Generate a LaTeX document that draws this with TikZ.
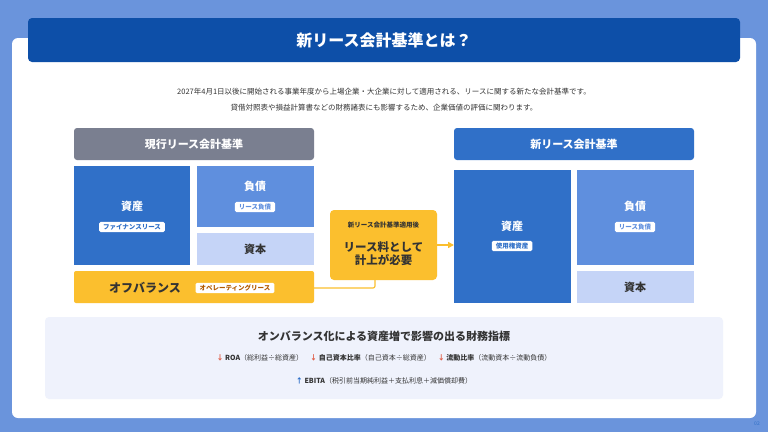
\documentclass[tikz,border=0pt]{standalone}
\usepackage{fontspec}
\usetikzlibrary{arrows.meta}
\setmainfont{Noto Sans CJK JP}
\newcommand\jpb{\bfseries}
\definecolor{bgblue}{HTML}{6A94DC}
\definecolor{dblue}{HTML}{0D4FA8}
\definecolor{mblue}{HTML}{3070C8}
\definecolor{lblue}{HTML}{5F8FDE}
\definecolor{pblue}{HTML}{C5D4F7}
\definecolor{hgray}{HTML}{7A7F90}
\definecolor{ylw}{HTML}{FBBF2E}
\definecolor{panel}{HTML}{EFF2FC}
\definecolor{txt}{HTML}{333333}
\definecolor{redc}{HTML}{E0604A}
\begin{document}
\begin{tikzpicture}[x=1pt,y=-1pt,
  badge/.style={fill=white,rounded corners=1.5pt,inner xsep=4pt,inner ysep=2pt,font=\fontsize{6.5}{7}\jpb},
  big/.style={font=\fontsize{11}{12}\jpb}]
\fill[bgblue] (0,0) rectangle (768,432);
\useasboundingbox (0,0) rectangle (768,432);
\fill[white,rounded corners=6pt] (12,38) rectangle (756,418);
\fill[dblue,rounded corners=4pt] (28,18) rectangle (740,62);
\node[white,font=\fontsize{16}{18}\jpb] (title) at (384,40) {新リース会計基準とは？};
\node[txt,font=\fontsize{7.5}{9}\selectfont] (s1) at (384,92) {2027年4月1日以後に開始される事業年度から上場企業・大企業に対して適用される、リースに関する新たな会計基準です。};
\node[txt,font=\fontsize{7.5}{9}\selectfont] (s2) at (384,108) {貸借対照表や損益計算書などの財務諸表にも影響するため、企業価値の評価に関わります。};
% left
\fill[hgray,rounded corners=3pt] (74,128) rectangle (314,160);
\node[white,font=\fontsize{11}{12}\jpb] (lh) at (194,144) {現行リース会計基準};
\fill[mblue] (74,166) rectangle (190,265);
\node[white,big] (la) at (132,206) {資産};
\node[badge,text=mblue] (lab) at (132,227) {ファイナンスリース};
\fill[lblue] (197,166) rectangle (314,227);
\node[white,big] (ll) at (255,186) {負債};
\node[badge,text=lblue] (llb) at (255,207) {リース負債};
\fill[pblue] (197,233) rectangle (314,265);
\node[txt,big] (lc) at (255,249) {資本};
\fill[ylw,rounded corners=2pt] (74,271) rectangle (314,303);
\node[txt,font=\fontsize{12}{13}\jpb] (obt) at (145,288) {オフバランス};
\node[badge,text=orange!70!black] (obb) at (235,288) {オペレーティングリース};
% callout
\node[fill=ylw,rounded corners=4pt,minimum width=107pt,minimum height=70pt] (co) at (383.5,245) {};
\node[txt,font=\fontsize{6.5}{7}\jpb] (cos) at (383.5,225) {新リース会計基準適用後};
\node[txt,font=\fontsize{11.5}{13}\jpb,align=center] (cot) at (383.5,254) {リース料として\\計上が必要};
\coordinate (ob) at (314,288);
\draw[ylw,line width=1.2pt,rounded corners=2pt] (ob) -- (375,288) -- (co.south -| 375,0);
% right
\fill[mblue,rounded corners=3pt] (454,128) rectangle (694,160);
\node[white,font=\fontsize{11}{12}\jpb] (rh) at (574,144) {新リース会計基準};
\fill[mblue] (454,170) rectangle (571,303);
\node[white,big] (ra) at (512,226) {資産};
\node[badge,text=mblue] (rab) at (512,246) {使用権資産};
\coordinate (rin) at (454,245);
\draw[ylw,line width=1.5pt,-{Triangle[length=6pt,width=6pt]}] (co.east) -- (rin);
\fill[lblue] (577,170) rectangle (694,265);
\node[white,big] (rl) at (635,206) {負債};
\node[badge,text=lblue] (rlb) at (635,227) {リース負債};
\fill[pblue] (577,271) rectangle (694,303);
\node[txt,big] (rc) at (635,287) {資本};
% bottom panel
\fill[panel,rounded corners=4pt] (45,317) rectangle (723,399);
\node[txt,font=\fontsize{11}{12}\jpb] (pt) at (384,336) {オンバランス化による資産増で影響の出る財務指標};
\node[font=\fontsize{7}{8}\selectfont,text=txt] (r1) at (384,358) {\textcolor{redc}{\jpb ↓}\ {\jpb ROA}（総利益÷総資産）\quad\textcolor{redc}{\jpb ↓}\ {\jpb 自己資本比率}（自己資本÷総資産）\quad\textcolor{redc}{\jpb ↓}\ {\jpb 流動比率}（流動資本÷流動負債）};
\node[font=\fontsize{7}{8}\selectfont,text=txt] (r2) at (384,381) {\textcolor{mblue}{\jpb ↑}\ {\jpb EBITA}（税引前当期純利益＋支払利息＋減価償却費）};
\node[text=mblue,font=\fontsize{5}{6}\selectfont] (pg) at (757,424) {02};
\end{tikzpicture}
\end{document}
